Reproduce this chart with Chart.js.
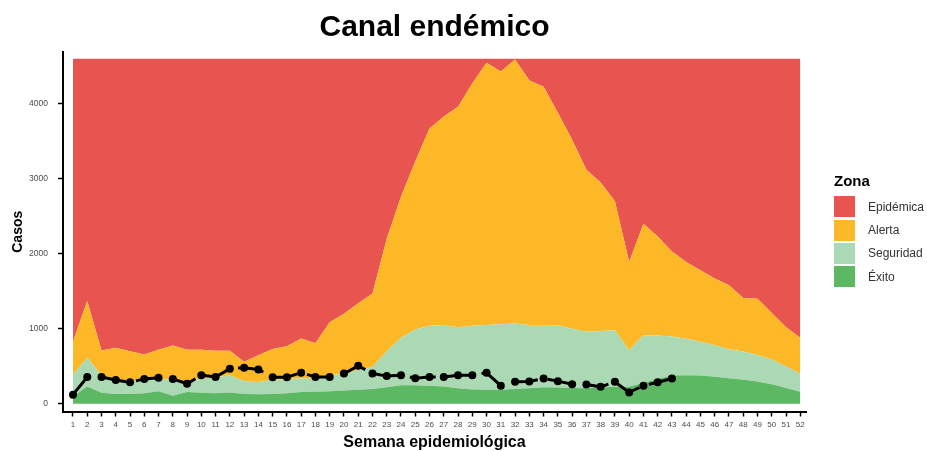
<!DOCTYPE html>
<html>
<head>
<meta charset="utf-8">
<script src="https://cdn.jsdelivr.net/npm/chart.js@4.4.1/dist/chart.umd.min.js"></script>
<style>
  body { margin: 0; background: #fff; }
  #wrap { position: relative; width: 927px; height: 451px; }
  #legend { position: absolute; left: 834px; top: 172px; font-family: "Liberation Sans", Arial, sans-serif; }
  #legend .ttl { font-weight: bold; font-size: 15px; color: #000; margin-bottom: 6px; }
  #legend .row { display: flex; align-items: center; height: 23.4px; }
  #legend .box { width: 21px; height: 21px; margin-right: 13px; }
  #legend .lbl { font-size: 12px; color: #333; }
</style>
</head>
<body>
<div id="wrap">
  <canvas id="chart" width="927" height="451"></canvas>
  <div id="legend"></div>
</div>
<script>
// semanas epidemiologicas
const weeks = [1,2,3,4,5,6,7,8,9,10,11,12,13,14,15,16,17,18,19,20,21,22,23,24,25,26,
  27,28,29,30,31,32,33,34,35,36,37,38,39,40,41,42,43,44,45,46,47,48,49,50,51,52];

// upper limit of each zone (cases)
const exito = [95,230,145,130,130,140,165,105,155,145,140,150,130,125,130,140,155,160,165,175,185,195,220,245,245,240,
  230,205,190,185,185,195,205,220,215,210,205,215,224,225,280,330,375,380,375,360,340,320,295,260,210,160];
const seguridad = [390,610,380,330,300,320,340,310,295,335,350,380,300,290,320,325,340,330,380,400,450,490,700,880,990,1040,
  1050,1020,1040,1050,1060,1070,1050,1050,1047,1000,958,970,980,713,913,910,895,865,825,780,725,695,650,590,495,400];
const alerta = [830,1370,710,745,700,655,720,775,720,720,705,705,560,645,730,765,870,805,1085,1200,1340,1470,2200,2760,3230,3670,
  3830,3960,4270,4545,4430,4590,4310,4225,3880,3520,3120,2950,2700,1890,2400,2230,2030,1890,1780,1670,1580,1410,1400,1210,1020,880];
const epidemica = weeks.map(() => 4600);

// casos observados (hasta semana 43)
const casos = [120,355,355,315,285,330,345,330,265,380,355,465,480,455,352,352,413,356,356,402,504,402,367,380,340,356,
  356,380,380,411,240,291,295,336,300,260,256,224,291,150,240,285,336,null,null,null,null,null,null,null,null,null];

const yTicks = [0, 1000, 2000, 3000, 4000];

const zonas = [
    { label: 'Epidémica', color: '#E8544F' },
    { label: 'Alerta', color: '#FDB827' },
    { label: 'Seguridad', color: '#ABD9B4' },
    { label: 'Éxito', color: '#5DB864' }
];

const pts = arr => weeks.map((w, i) => ({ x: w, y: arr[i] }));
const FONT = '"Liberation Sans", Arial, sans-serif';

const area = (label, data, color, fill) => ({
    label, data: pts(data), fill, order: 1,
    backgroundColor: color, borderWidth: 0, pointRadius: 0, tension: 0
});

new Chart(document.getElementById('chart'), {
    type: 'line',
    data: {
        datasets: [
            area('Éxito', exito, zonas[3].color, 'origin'),
            area('Seguridad', seguridad, zonas[2].color, '-1'),
            area('Alerta', alerta, zonas[1].color, '-1'),
            area('Epidémica', epidemica, zonas[0].color, '-1'),
            {
                label: 'Casos',
                data: pts(casos),
                order: 0,
                borderColor: '#000',
                borderWidth: 3,
                borderDash: [26, 10],
                pointRadius: 4,
                pointBackgroundColor: '#000',
                pointBorderWidth: 0,
                spanGaps: false,
                fill: false,
                tension: 0
            }
        ]
    },
    options: {
        responsive: false,
        animation: false,
        events: [],
        layout: { padding: { left: 0, right: 121, top: 0, bottom: 0 } },
        plugins: {
            legend: { display: false },
            tooltip: { enabled: false },
            title: {
                display: true,
                text: 'Canal endémico',
                fullSize: false,
                color: '#000',
                font: { family: FONT, size: 30, weight: 'bold', lineHeight: 1.2 },
                padding: { top: 10, bottom: 6 }
            }
        },
        scales: {
            x: {
                type: 'linear',
                min: 0.3,
                max: 52.4,
                afterBuildTicks: s => { s.ticks = weeks.map(v => ({ value: v })); },
                afterFit: s => { s.height = 39.5; },
                ticks: {
                    autoSkip: false, maxRotation: 0, padding: 3,
                    color: '#4d4d4d', font: { family: FONT, size: 8 },
                    callback: v => String(v)
                },
                grid: { drawOnChartArea: false, drawTicks: true, tickLength: 5, color: '#000', tickWidth: 1.5 },
                border: { display: true, color: '#000', width: 2 },
                title: {
                    display: true, text: 'Semana epidemiológica', color: '#000',
                    font: { family: FONT, size: 16, weight: 'bold', lineHeight: 1 },
                    padding: { top: 0, bottom: 0 }
                }
            },
            y: {
                min: -105,
                max: 4690,
                afterBuildTicks: s => { s.ticks = yTicks.map(v => ({ value: v })); },
                afterFit: s => { s.width = 63; },
                ticks: {
                    padding: 10, color: '#4d4d4d', font: { family: FONT, size: 8.5 },
                    callback: v => String(v)
                },
                grid: { drawOnChartArea: false, drawTicks: true, tickLength: 5, color: '#000', tickWidth: 1.5 },
                border: { display: true, color: '#000', width: 2 },
                title: {
                    display: true, text: 'Casos', color: '#000',
                    font: { family: FONT, size: 14, weight: 'bold', lineHeight: 1 },
                    padding: { top: 11, bottom: 0 }
                }
            }
        }
    }
});

// leyenda (Zona)
const legend = document.getElementById('legend');
legend.innerHTML = '<div class="ttl">Zona</div>' + zonas.map(z => `
    <div class="row"><div class="box" style="background:${z.color}"></div><div class="lbl">${z.label}</div></div>
`).join('');
</script>
</body>
</html>
